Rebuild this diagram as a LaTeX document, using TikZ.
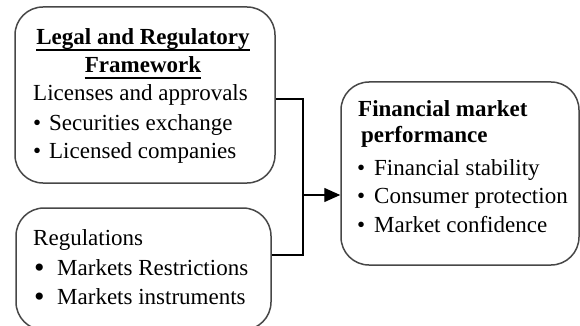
\documentclass[tikz,border=0pt]{standalone}
\usepackage{fontspec}
\setmainfont{Liberation Serif}
\usetikzlibrary{arrows.meta}
\begin{document}
\begin{tikzpicture}[x=1pt,y=-1pt,
  panel/.style={draw=black!72, line width=1.5pt, rounded corners=28pt, inner sep=0pt},
  line/.style={anchor=base west, inner sep=0pt, font=\fontsize{23}{28}\selectfont},
  head/.style={anchor=base, inner sep=0pt, font=\fontsize{23}{28}\selectfont\bfseries},
  headl/.style={anchor=base west, inner sep=0pt, font=\fontsize{23}{28}\selectfont\bfseries},
  uline/.style={line width=1.3pt},
  wire/.style={draw=black, line width=1.3pt},
  tip/.style={-{Triangle[length=16pt,width=14pt]}}
]
\newcommand{\bul}[1]{\makebox[#1][l]{\textbullet}}
\newcommand{\bigbul}[1]{\makebox[#1][l]{\raisebox{-2.3pt}{\scalebox{1.3}{\textbullet}}}}
\useasboundingbox (0,0) rectangle (580,326);
\begin{scope}
\clip (0,0) rectangle (580,326);
% the three panels
\node[panel, minimum width=260pt, minimum height=176pt] (legal) at (145,95) {};
\node[panel, minimum width=255pt, minimum height=122pt] (regs) at (143.5,269) {};
\node[panel, minimum width=238pt, minimum height=183pt] (perf) at (460,173.5) {};
\end{scope}

% left panel: legal and regulatory framework
\node[head] (t1) at (143,45) {Legal and Regulatory};
\node[head] (t2) at (143,73) {Framework};
\draw[uline] ([yshift=-5pt]t1.base west) -- ([yshift=-5pt]t1.base east);
\draw[uline] ([yshift=-5pt]t2.base west) -- ([yshift=-5pt]t2.base east);
\node[line] (t3) at (33,101) {Licenses and approvals};
\node[line] (t4) at (33,130) {\bul{16pt}Securities exchange};
\node[line] (t5) at (33,158) {\bul{16pt}Licensed companies};

% lower panel: regulations
\node[line] (r1) at (33,245) {Regulations};
\node[line] (r2) at (34,275) {\bigbul{23pt}Markets Restrictions};
\node[line] (r3) at (34,304) {\bigbul{23pt}Markets instruments};

% right panel: financial market performance
\node[headl] (p1) at (358,116) {Financial market};
\node[headl] (p2) at (361,142) {performance};
\node[line] (p3) at (357,175) {\bul{17pt}Financial stability};
\node[line] (p4) at (357,203) {\bul{17pt}Consumer protection};
\node[line] (p5) at (357,232) {\bul{17pt}Market confidence};

% bus joining the two inputs to the output
\coordinate (bustop) at (303,99);
\coordinate (busbot) at (303,255);
\coordinate (busmid) at (303,195);
\draw[wire] (legal.east |- bustop) -- (bustop) -- (busbot) -- (regs.east |- busbot);
\draw[wire, tip] (busmid) -- (perf.west |- busmid);
\end{tikzpicture}
\end{document}
